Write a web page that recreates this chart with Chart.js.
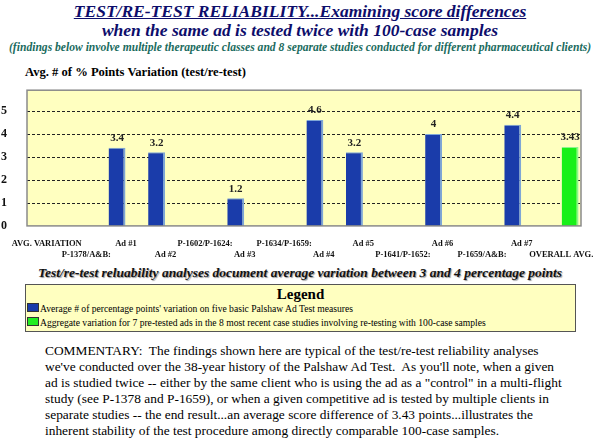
<!DOCTYPE html>
<html>
<head>
<meta charset="utf-8">
<script src="https://cdn.jsdelivr.net/npm/chart.js@4"></script>
<style>
  body { margin: 0; background: #fff; }
  #page, #page div, #page span { font-family: 'Liberation Serif', serif; }
  #page { position: relative; width: 600px; height: 439px; overflow: hidden; }
  .t { position: absolute; left: 0; width: 600px; text-align: center; white-space: nowrap; }
  #title1 { top: 1px; font-size: 17.5px; font-weight: bold; font-style: italic; color: #0d0d6b; text-decoration: underline; }
  #title2 { top: 20px; font-size: 17.5px; font-weight: bold; font-style: italic; color: #0d0d6b; }
  #title3 { top: 41px; font-size: 11.6px; font-weight: bold; font-style: italic; color: #1a6b5e; }
  #ytitle { position: absolute; left: 25px; top: 65px; font-size: 12.6px; font-weight: bold; }
  #chartBox { position: absolute; left: 0; top: 71px; width: 600px; height: 193px; }
  #sub { top: 265px; font-size: 13.5px; font-weight: bold; font-style: italic; color: #111; text-shadow: 1px 1px 1px #999; }
  #legend { position: absolute; left: 25px; top: 284px; width: 549px; height: 46px; background: #ffffc0; border: 1px solid #555; }
  #legend .head { text-align: center; font-size: 15px; font-weight: bold; line-height: 16px; margin-top: 1px; }
  #legend .item { font-size: 9.6px; line-height: 14px; padding-left: 1px; white-space: nowrap; }
  #legend .sw { display: inline-block; width: 10px; height: 7px; border: 1px solid #333; margin-right: 1px; vertical-align: 0; }
  #comment { position: absolute; left: 45px; top: 343px; width: 560px; font-size: 13.4px; line-height: 16px; color: #000; white-space: nowrap; }
</style>
</head>
<body>
<div id="page">
  <div class="t" id="title1">TEST/RE-TEST RELIABILITY...Examining score differences</div>
  <div class="t" id="title2">when the same ad is tested twice with 100-case samples</div>
  <div class="t" id="title3">(findings below involve multiple therapeutic classes and 8 separate studies conducted for different pharmaceutical clients)</div>
  <div id="ytitle">Avg. # of % Points Variation (test/re-test)</div>
  <div id="chartBox"><canvas id="chart"></canvas></div>
  <div class="t" id="sub">Test/re-test reluability analyses document average variation between 3 and 4 percentage points</div>
  <div id="legend">
    <div class="head">Legend</div>
    <div class="item"><span class="sw" style="background:#1a3caa"></span>Average # of percentage points' variation on five basic Palshaw Ad Test measures</div>
    <div class="item"><span class="sw" style="background:#22ee22"></span>Aggregate variation for 7 pre-tested ads in the 8 most recent case studies involving re-testing with 100-case samples</div>
  </div>
  <div id="comment">
    COMMENTARY:&nbsp; The findings shown here are typical of the test/re-test reliability analyses<br>
    we've conducted over the 38-year history of the Palshaw Ad Test.&nbsp; As you'll note, when a given<br>
    ad is studied twice -- either by the same client who is using the ad as a &quot;control&quot; in a multi-flight<br>
    study (see P-1378 and P-1659), or when a given competitive ad is tested by multiple clients in<br>
    separate studies -- the end result...an average score difference of 3.43 points...illustrates the<br>
    inherent stability of the test procedure among directly comparable 100-case samples.
  </div>
</div>
<script>
const categories = ['AVG. VARIATION', 'P-1378/A&B:', 'Ad #1', 'Ad #2', 'P-1602/P-1624:', 'Ad #3',
  'P-1634/P-1659:', 'Ad #4', 'Ad #5', 'P-1641/P-1652:', 'Ad #6', 'P-1659/A&B:', 'Ad #7', 'OVERALL AVG.'];
const adValues = [null, null, 3.4, 3.2, null, 1.2, null, 4.6, 3.2, null, 4, null, 4.4, null];
const overallValues = [null, null, null, null, null, null, null, null, null, null, null, null, null, 3.43];
const yTicks = [0, 1, 2, 3, 4, 5];

const SERIF = "'Liberation Serif', serif";

// yellow plot background, dashed gridlines, grey frame
const plotBg = {
  id: 'plotBg',
  beforeDraw(chart) {
    const { ctx, chartArea: a } = chart;
    ctx.save();
    ctx.fillStyle = '#ffffc0';
    ctx.fillRect(a.left, a.top, a.right - a.left, a.bottom - a.top);
    ctx.restore();
  },
  beforeDatasetsDraw(chart) {
    const { ctx, chartArea: a, scales } = chart;
    ctx.save();
    ctx.strokeStyle = '#222';
    ctx.lineWidth = 1;
    ctx.setLineDash([3, 2]);
    scales.y.ticks.forEach(t => {
      if (t.value === 0) return;
      const y = Math.round(scales.y.getPixelForValue(t.value)) + 0.5;
      ctx.beginPath();
      ctx.moveTo(a.left, y);
      ctx.lineTo(a.right, y);
      ctx.stroke();
    });
    ctx.restore();
  },
  afterDatasetsDraw(chart) {
    const { ctx, chartArea: a } = chart;
    ctx.save();
    ctx.strokeStyle = '#8a8a8a';
    ctx.lineWidth = 1.5;
    ctx.strokeRect(a.left, a.top, a.right - a.left, a.bottom - a.top);
    ctx.restore();
  }
};

// value labels above the bars
const valueLabels = {
  id: 'valueLabels',
  afterDatasetsDraw(chart) {
    const ctx = chart.ctx;
    ctx.save();
    ctx.font = 'bold 11px ' + SERIF;
    ctx.fillStyle = '#222';
    ctx.textAlign = 'center';
    ctx.textBaseline = 'bottom';
    chart.data.datasets.forEach((ds, i) => {
      chart.getDatasetMeta(i).data.forEach((bar, j) => {
        if (ds.data[j] == null) return;
        ctx.fillText(String(ds.data[j]), bar.x, bar.y - 4);
      });
    });
    ctx.restore();
  }
};

new Chart(document.getElementById('chart'), {
  type: 'bar',
  data: {
    labels: categories,
    datasets: [
      {
        data: adValues,
        backgroundColor: '#1a3caa',
        borderColor: '#7ea6d6',
        borderWidth: { top: 1, right: 2, left: 0, bottom: 0 },
        borderSkipped: false
      },
      {
        data: overallValues,
        backgroundColor: '#18f018',
        borderColor: '#8cf58c',
        borderWidth: { top: 1, right: 2, left: 0, bottom: 0 },
        borderSkipped: false
      }
    ]
  },
  options: {
    responsive: true,
    maintainAspectRatio: false,
    animation: false,
    layout: { padding: { left: 0, right: 19, top: 0, bottom: 0 } },
    plugins: { legend: { display: false }, tooltip: { enabled: false }, title: { display: false } },
    datasets: { bar: { categoryPercentage: 0.9, barPercentage: 0.95 } },
    scales: {
      x: {
        grid: { display: false },
        border: { display: false },
        ticks: {
          autoSkip: false,
          maxRotation: 0,
          padding: 4,
          color: '#111',
          font: { family: SERIF, size: 8.5, weight: 'bold', lineHeight: 1.3 },
          // alternate labels drop to a second row
          callback: (v, i) => (i % 2 ? ['', categories[i]] : categories[i])
        }
      },
      y: {
        min: 0,
        max: 5.9,
        afterFit(scale) { scale.width = 27; },
        afterBuildTicks(scale) { scale.ticks = yTicks.map(v => ({ value: v })); },
        border: { display: false },
        grid: { display: false },
        ticks: {
          padding: 12,
          color: '#111',
          font: { family: SERIF, size: 12, weight: 'bold' }
        }
      }
    }
  },
  plugins: [plotBg, valueLabels]
});
</script>
</body>
</html>
